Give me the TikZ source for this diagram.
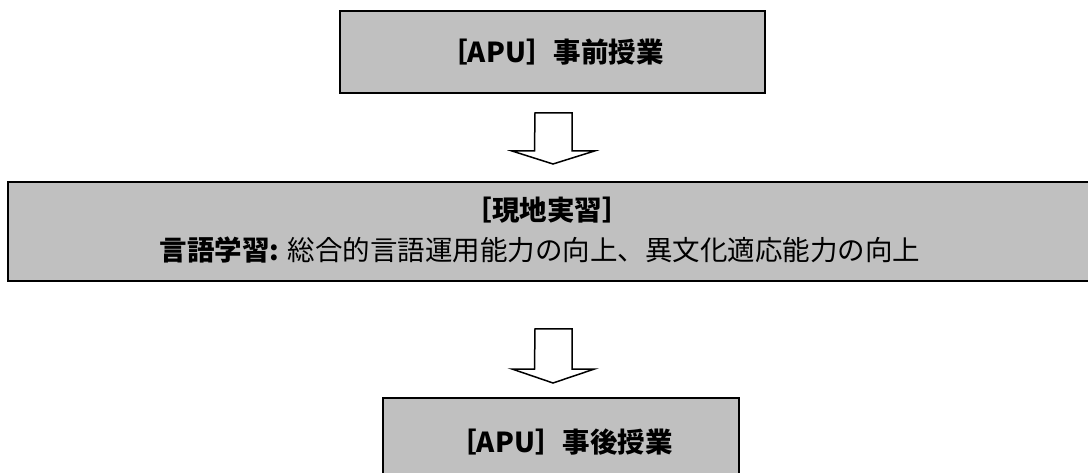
\documentclass[tikz,border=0pt]{standalone}
\usepackage{fontspec}
\setmainfont{Noto Sans CJK JP}
\definecolor{boxgray}{HTML}{C0C0C0}
\begin{document}
\begin{tikzpicture}[x=1pt,y=-1pt,
  box/.style={draw=black,line width=2pt,fill=boxgray,inner sep=0pt},
  label/.style={inner sep=0pt,font=\fontsize{27.5}{32}\selectfont},
  arrowline/.style={draw=black,line width=1.5pt,fill=white,line join=miter}]
\useasboundingbox (0,0) rectangle (1088,473);
\clip (0,0) rectangle (1088,473);
% boxes
\node (pre) [box,minimum width=425pt,minimum height=82pt] at (552.5,52) {};
\node (pret) [label] at (552,52) {\bfseries ［APU］事前授業};
\node (field) [box,minimum width=1092pt,minimum height=99pt] at (554,231.5) {};
\node (fieldt1) [label] at (547,210) {\bfseries ［現地実習］};
\node (fieldt2) [label] at (540,250) {\textbf{言語学習:} 総合的言語運用能力の向上、異文化適応能力の向上};
\node (post) [box,minimum width=356pt,minimum height=92pt] at (561,444) {};
\node (postt) [label] at (561,442) {\bfseries ［APU］事後授業};
% block arrows
\coordinate (a1) at (553.5,113);
\coordinate (a2) at (553.5,329);
\draw[arrowline] (a1) ++(-18.5,0) -- ++(37,0) -- ++(0,38) -- ++(22.5,0) -- ++(-41.5,13) -- ++(-41,-13) -- ++(22.5,0) -- cycle;
\draw[arrowline] (a2) ++(-18.5,0) -- ++(37,0) -- ++(0,40) -- ++(22.5,0) -- ++(-41.5,14) -- ++(-41,-14) -- ++(22.5,0) -- cycle;
\end{tikzpicture}
\end{document}
